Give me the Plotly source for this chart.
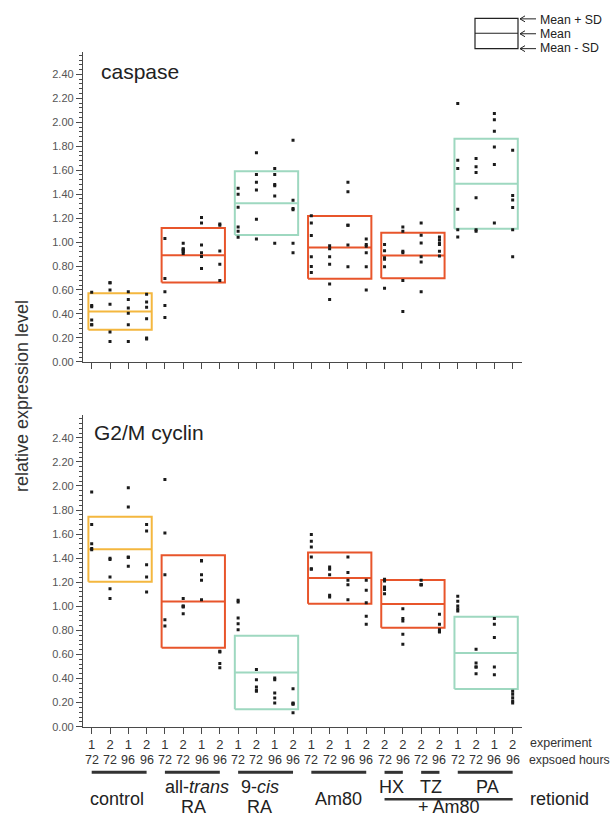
import plotly.graph_objects as go

# ---------------- data ----------------
experiment = ["1", "2", "1", "2", "1", "2", "1", "2", "1", "2", "1", "2",
              "1", "2", "1", "2", "2", "2", "2", "2", "1", "2", "1", "2"]
hours = ["72", "72", "96", "96", "72", "72", "96", "96", "72", "72", "96", "96",
         "72", "72", "96", "96", "72", "96", "72", "96", "72", "72", "96", "96"]

# box groups (column index ranges)
box_groups = ["control", "all-trans RA", "9-cis RA", "Am80", "HX/TZ + Am80", "PA + Am80"]
box_start = [0, 4, 8, 12, 16, 20]
box_end = [3, 7, 11, 15, 19, 23]
box_color = ["#F4B73F", "#E8552B", "#9ED8C0", "#E8552B", "#E8552B", "#9ED8C0"]

caspase_mean = [0.42, 0.89, 1.325, 0.955, 0.888, 1.487]
caspase_sd = [0.152, 0.227, 0.266, 0.262, 0.19, 0.375]
cyclin_mean = [1.475, 1.04, 0.45, 1.235, 1.02, 0.613]
cyclin_sd = [0.27, 0.385, 0.305, 0.213, 0.198, 0.30]

caspase_points = [
    [0.58, 0.47, 0.46, 0.35, 0.31, 0.31],
    [0.66, 0.66, 0.60, 0.48, 0.25, 0.17],
    [0.585, 0.52, 0.45, 0.405, 0.31, 0.17],
    [0.565, 0.50, 0.455, 0.36, 0.20, 0.19],
    [1.03, 0.695, 0.585, 0.47, 0.37],
    [0.99, 0.945, 0.94, 0.93, 0.92, 0.905],
    [1.205, 1.16, 0.975, 0.91, 0.88, 0.78],
    [1.15, 1.14, 0.925, 0.815, 0.68],
    [1.45, 1.40, 1.29, 1.125, 1.09, 1.04],
    [1.745, 1.565, 1.50, 1.435, 1.19, 1.025],
    [1.615, 1.565, 1.48, 1.47, 1.385, 0.99],
    [1.85, 1.35, 1.28, 1.27, 0.99, 0.91],
    [1.22, 1.16, 1.055, 0.877, 0.795, 0.745],
    [0.97, 0.945, 0.877, 0.815, 0.65, 0.52],
    [1.50, 1.42, 1.14, 1.14, 0.975, 0.794],
    [1.026, 0.98, 0.966, 0.91, 0.794, 0.60],
    [0.98, 0.927, 0.87, 0.857, 0.794, 0.615],
    [1.125, 1.09, 0.924, 0.91, 0.68, 0.42],
    [1.16, 1.057, 0.993, 0.877, 0.833, 0.585],
    [1.043, 1.02, 0.993, 0.98, 0.924, 0.883],
    [2.157, 1.683, 1.614, 1.274, 1.103, 1.043],
    [1.697, 1.628, 1.58, 1.371, 1.103, 1.09],
    [2.074, 2.022, 1.926, 1.793, 1.647, 1.159],
    [1.766, 1.388, 1.352, 1.288, 1.103, 0.877],
]

cyclin_points = [
    [1.95, 1.68, 1.52, 1.48, 1.47],
    [1.40, 1.39, 1.244, 1.147, 1.064],
    [1.986, 1.825, 1.41, 1.405, 1.332],
    [1.679, 1.626, 1.346, 1.244, 1.119],
    [2.053, 1.609, 1.263, 0.889, 0.837],
    [1.064, 1.003, 1.0, 0.995, 0.939],
    [1.38, 1.377, 1.263, 1.216, 1.055],
    [0.626, 0.62, 0.524, 0.49],
    [1.05, 1.036, 0.903, 0.856, 0.806],
    [0.476, 0.39, 0.33, 0.302, 0.294],
    [0.404, 0.39, 0.28, 0.238, 0.197],
    [0.316, 0.197, 0.19, 0.186, 0.116],
    [1.596, 1.54, 1.493, 1.41, 1.313, 1.307],
    [1.327, 1.307, 1.263, 1.091, 1.078],
    [1.41, 1.28, 1.216, 1.18, 1.055],
    [1.216, 1.133, 1.03, 0.917, 0.85],
    [1.224, 1.21, 1.16, 1.139, 1.105],
    [0.98, 0.898, 0.878, 0.767, 0.684],
    [1.216, 1.18, 1.18, 1.18],
    [0.934, 0.85, 0.806, 0.792, 0.787],
    [1.083, 1.042, 1.003, 0.98, 0.961],
    [0.643, 0.529, 0.496, 0.496, 0.44],
    [0.898, 0.85, 0.74, 0.496, 0.432],
    [0.294, 0.269, 0.241, 0.213, 0.197],
]

# retinoid underline bars (column index ranges)
underline_start = [0, 4, 8, 12, 16, 18, 20]
underline_end = [3, 7, 11, 15, 17, 19, 23]

W, H = 614, 824
FONT = "Liberation Sans, Arial, Helvetica, sans-serif"


def xp(px):
    return px / W


def yp(py):
    return 1 - py / H


fig = go.Figure()

panels = [
    (caspase_points, caspase_mean, caspase_sd, "x", "y"),
    (cyclin_points, cyclin_mean, cyclin_sd, "x2", "y2"),
]

for pts, means, sds, xa, ya in panels:
    for g in range(len(box_groups)):
        x0 = box_start[g] - 0.18
        x1 = box_end[g] + 0.28
        lo = means[g] - sds[g]
        hi = means[g] + sds[g]
        fig.add_trace(go.Scatter(
            x=[x0, x1, x1, x0, x0], y=[lo, lo, hi, hi, lo],
            mode="lines", line=dict(color=box_color[g], width=2),
            xaxis=xa, yaxis=ya, showlegend=False, hoverinfo="skip"))
        fig.add_trace(go.Scatter(
            x=[x0, x1], y=[means[g], means[g]],
            mode="lines", line=dict(color=box_color[g], width=2),
            xaxis=xa, yaxis=ya, showlegend=False, hoverinfo="skip"))
    xs, ys = [], []
    for i, col in enumerate(pts):
        for v in col:
            xs.append(i)
            ys.append(v)
    fig.add_trace(go.Scatter(
        x=xs, y=ys, mode="markers",
        marker=dict(symbol="square", size=3, color="#1a1a1a", line=dict(width=0)),
        xaxis=xa, yaxis=ya, showlegend=False))

axis_col = "#4a4a4a"
xcommon = dict(
    domain=[xp(83), xp(522)], range=[-0.475, 23.51],
    showline=True, linecolor=axis_col, linewidth=1.3,
    ticks="outside", ticklen=6, tickwidth=1.3, tickcolor=axis_col,
    tickmode="array", tickvals=list(range(len(experiment))),
    showgrid=False, zeroline=False, fixedrange=True)
ycommon = dict(
    showline=True, linecolor=axis_col, linewidth=1.3,
    ticks="outside", ticklen=6, tickwidth=1.3, tickcolor=axis_col,
    tick0=0, dtick=0.2, tickformat=".2f",
    tickfont=dict(family=FONT, size=11, color="#555"),
    minor=dict(ticks="outside", ticklen=3, dtick=0.04, tickcolor=axis_col, tickwidth=1),
    showgrid=False, zeroline=False, fixedrange=True)

fig.update_layout(
    width=W, height=H,
    margin=dict(l=0, r=0, t=0, b=0),
    paper_bgcolor="white", plot_bgcolor="white",
    font=dict(family=FONT, color="#222"),
    xaxis=dict(**xcommon, anchor="y", showticklabels=False),
    xaxis2=dict(**xcommon, anchor="y2", showticklabels=True, ticktext=experiment,
                tickfont=dict(family=FONT, size=13, color="#333")),
    yaxis=dict(**ycommon, anchor="x", domain=[yp(364.5), yp(52)], range=[0, 2.59]),
    yaxis2=dict(**ycommon, anchor="x2", domain=[yp(732), yp(418)], range=[0, 2.59]),
)

ann = []
# panel titles
ann.append(dict(text="caspase", xref="paper", yref="paper", x=xp(99), y=yp(72),
                xanchor="left", yanchor="middle", showarrow=False,
                font=dict(family=FONT, size=21, color="#222")))
ann.append(dict(text="G2/M cyclin", xref="paper", yref="paper", x=xp(92), y=yp(436),
                xanchor="left", yanchor="middle", showarrow=False,
                font=dict(family=FONT, size=21, color="#222")))
# y axis title
ann.append(dict(text="relative expression level", xref="paper", yref="paper",
                x=xp(22), y=yp(399), textangle=-90, xanchor="center", yanchor="middle",
                showarrow=False, font=dict(family=FONT, size=18, color="#333")))
# exposed hours row
for i, h in enumerate(hours):
    ann.append(dict(text=h, xref="x2", yref="paper", x=i, y=yp(766),
                    xanchor="center", yanchor="middle", showarrow=False,
                    font=dict(family=FONT, size=12.5, color="#333")))
ann.append(dict(text="experiment", xref="paper", yref="paper", x=xp(528), y=yp(748),
                xanchor="left", yanchor="middle", showarrow=False,
                font=dict(family=FONT, size=12.5, color="#333")))
ann.append(dict(text="expsoed hours", xref="paper", yref="paper", x=xp(527), y=yp(766),
                xanchor="left", yanchor="middle", showarrow=False,
                font=dict(family=FONT, size=12.3, color="#333")))
# retinoid group labels
group_labels = [
    ("control", 1.5, 805, -2),
    ("all-<i>trans</i>", 5.5, 793, 5),
    ("RA", 5.5, 813, 1),
    ("9-<i>cis</i>", 9.5, 793, -6),
    ("RA", 9.5, 813, -6),
    ("Am80", 13.5, 805, 0),
    ("HX", 16.5, 793, -2),
    ("TZ", 18.5, 793, 1),
    ("PA", 21.5, 793, 2),
    ("+ Am80", 19.5, 813, 0),
]
for txt, xc, ypx, sh in group_labels:
    ann.append(dict(text=txt, xref="x2", yref="paper", x=xc, y=yp(ypx), xshift=sh,
                    xanchor="center", yanchor="middle", showarrow=False,
                    font=dict(family=FONT, size=18, color="#222")))
ann.append(dict(text="retionid", xref="paper", yref="paper", x=xp(528), y=yp(805),
                xanchor="left", yanchor="middle", showarrow=False,
                font=dict(family=FONT, size=18, color="#222")))
# legend key texts
for txt, ypx in [("Mean + SD", 20), ("Mean", 34.5), ("Mean - SD", 48.5)]:
    ann.append(dict(text=txt, xref="paper", yref="paper", x=xp(538), y=yp(ypx),
                    xanchor="left", yanchor="middle", showarrow=False,
                    font=dict(family=FONT, size=12.3, color="#222")))
fig.update_layout(annotations=ann)

shapes = []
for s, e in zip(underline_start, underline_end):
    shapes.append(dict(type="line", xref="x2", yref="paper", x0=s, x1=e,
                       y0=yp(778), y1=yp(778), line=dict(color="#333", width=3)))
shapes.append(dict(type="line", xref="x2", yref="paper", x0=16, x1=23,
                   y0=yp(805), y1=yp(805), line=dict(color="#333", width=2.5)))
# legend key box and arrows
shapes.append(dict(type="rect", xref="paper", yref="paper", x0=xp(475), x1=xp(518),
                   y0=yp(49), y1=yp(18.5), line=dict(color="#222", width=1.2)))
shapes.append(dict(type="line", xref="paper", yref="paper", x0=xp(475), x1=xp(518),
                   y0=yp(33.5), y1=yp(33.5), line=dict(color="#222", width=1.2)))
for ya_px in [19, 34, 49]:
    shapes.append(dict(type="line", xref="paper", yref="paper", x0=xp(520), x1=xp(536),
                       y0=yp(ya_px), y1=yp(ya_px), line=dict(color="#222", width=1)))
    shapes.append(dict(type="path", xref="paper", yref="paper",
                       path=f"M {xp(525)},{yp(ya_px - 3)} L {xp(520)},{yp(ya_px)} L {xp(525)},{yp(ya_px + 3)}",
                       line=dict(color="#222", width=1)))
fig.update_layout(shapes=shapes)

fig.write_html("out.html", config={"displayModeBar": False},
               post_script="document.body.style.margin='0';document.body.style.overflow='hidden';")
